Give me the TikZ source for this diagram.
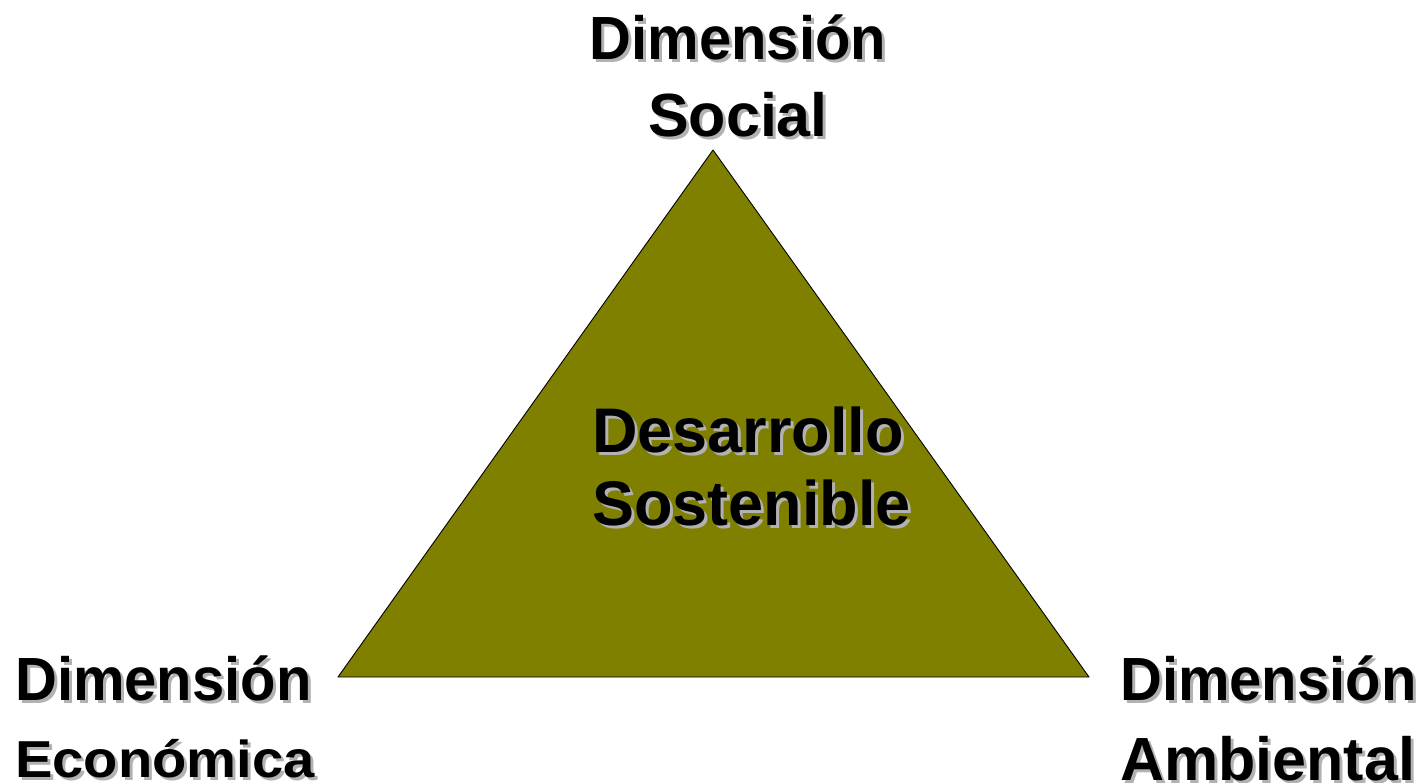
\documentclass[tikz,border=0pt]{standalone}
\usepackage{fontspec}
\usepackage{graphicx}
\setmainfont{Liberation Sans}
\usetikzlibrary{positioning}
\tikzset{>=latex}
\definecolor{triolive}{RGB}{128,128,0}
\definecolor{shadowgray}{RGB}{178,178,178}
\tikzset{dimtext/.style={font=\bfseries\fontsize{61}{77}\selectfont, inner sep=0pt}}
\newcommand{\dimword}{\scalebox{0.95}[1]{Dimensión}}
\newcommand{\shadowlabel}[4]{%
	\node[dimtext, #3, text=shadowgray, xshift=3pt, yshift=-3pt] (#1-sh) at (#2) {#4};
	\node[dimtext, #3] (#1) at (#2) {#4};
}

\begin{document}
\begin{tikzpicture}[x=1pt, y=-1pt, line cap=round, line join=round]
	\useasboundingbox (0,0) rectangle (1427,783);
	
	% Triangle
	\coordinate (apex) at (713,150);
	\coordinate (left) at (338,677);
	\coordinate (right) at (1089,677);
	\draw[line width=0.9pt, fill=triolive] (apex) -- (left) -- (right) -- cycle;
	
	% Labels
	\shadowlabel{social}{738,137}{anchor=base, align=center}{\dimword\\Social}
	\shadowlabel{economica}{15,777}{anchor=base west, align=left}{\dimword\\{\fontsize{52}{77}\selectfont\scalebox{1.08}[1]{Económica}}}
	\shadowlabel{ambiental}{1120,780}{anchor=base west, align=left, font=\bfseries\fontsize{61}{80}\selectfont}{\dimword\\Ambiental}
	\shadowlabel{desarrollo}{592,525}{anchor=base west, align=left, font=\bfseries\fontsize{63}{73}\selectfont}{Desarrollo\\Sostenible}
\end{tikzpicture}
\end{document}
